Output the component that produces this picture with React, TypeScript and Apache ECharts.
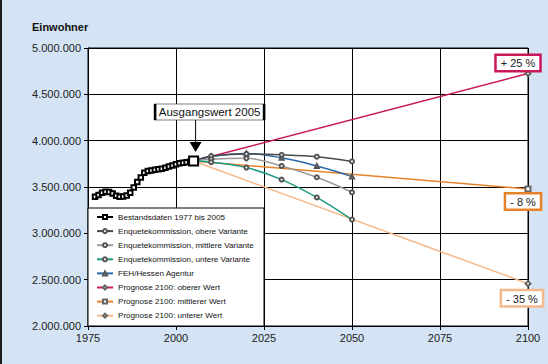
import React, { useEffect, useRef } from 'react';
import * as echarts from 'echarts';

const histYears = [1977, 1978, 1979, 1980, 1981, 1982, 1983, 1984, 1985, 1986, 1987, 1988, 1989, 1990, 1991, 1992, 1993, 1994, 1995, 1996, 1997, 1998, 1999, 2000, 2001, 2002, 2003, 2004, 2005];
const histValues = [3395000, 3413000, 3438000, 3449000, 3446000, 3430000, 3405000, 3395000, 3398000, 3408000, 3438000, 3495000, 3555000, 3602000, 3655000, 3672000, 3677000, 3686000, 3692000, 3698000, 3708000, 3720000, 3733000, 3745000, 3755000, 3762000, 3767000, 3772000, 3780000];

const enqYears = [2005, 2010, 2020, 2030, 2040, 2050];
const enqObere = [3780000, 3834000, 3857000, 3848000, 3827000, 3776000];
const enqMittlere = [3780000, 3800000, 3809000, 3727000, 3605000, 3443000];
const enqUntere = [3780000, 3768000, 3710000, 3580000, 3387000, 3148000];
const fehValues = [3780000, 3830000, 3862000, 3815000, 3727000, 3612000];

const progYears = [2005, 2100];
const progOben = [3780000, 4725000];
const progMitte = [3780000, 3478000];
const progUnten = [3780000, 2457000];
const progLabels = ['+ 25 %', '- 8 %', '- 35 %'];

const seriesNames = [
  'Bestandsdaten 1977 bis 2005',
  'Enquetekommission, obere Variante',
  'Enquetekommission, mittlere Variante',
  'Enquetekommission, untere Variante',
  'FEH/Hessen Agentur',
  'Prognose 2100: oberer Wert',
  'Prognose 2100: mittlerer Wert',
  'Prognose 2100: unterer Wert',
];

const FONT = '"Liberation Sans", Arial, sans-serif';

const pair = (xs: number[], ys: number[]) => xs.map((x, i) => [x, ys[i]]);

const fmt = (v: number) => String(v).replace(/\B(?=(\d{3})+(?!\d))/g, '.');

export default function App() {
  const ref = useRef<HTMLDivElement>(null);
  useEffect(() => {
    if (!ref.current) return;
    const chart = echarts.init(ref.current, null, { renderer: 'svg' });

    const progSeries = (name: string, ys: number[], color: string, symbol: string, label: string, pos: string, offset: number[]) => ({
      name,
      type: 'line',
      z: 2,
      data: progYears.map((x, i) =>
        i === progYears.length - 1
          ? {
              value: [x, ys[i]],
              label: {
                show: true,
                formatter: label,
                position: pos,
                offset,
                backgroundColor: '#fff',
                borderColor: color,
                borderWidth: 2.5,
                padding: [2, 4, 1, 4],
                color: '#222',
                fontSize: 11,
                fontFamily: FONT,
              },
            }
          : [x, ys[i]]
      ),
      symbol,
      symbolSize: 5,
      showSymbol: true,
      lineStyle: { color, width: 1.5 },
      itemStyle: { color: '#666' },
    });

    const enqSeries = (name: string, ys: number[], color: string, symbol = 'emptyCircle') => ({
      name,
      type: 'line',
      z: 3,
      smooth: 0.35,
      data: pair(enqYears, ys),
      symbol,
      symbolSize: 4,
      lineStyle: { color, width: 1.5 },
      itemStyle: { color: '#555' },
    });

    chart.setOption({
      animation: false,
      backgroundColor: '#d4e4f4',
      title: {
        text: 'Einwohner',
        left: 27,
        top: 16,
        textStyle: { fontSize: 11, fontWeight: 'bold', color: '#111', fontFamily: FONT },
      },
      grid: {
        left: 88,
        top: 48,
        width: 440,
        height: 278,
        show: true,
        backgroundColor: '#fff',
        borderColor: '#000',
        borderWidth: 1,
      },
      xAxis: {
        type: 'value',
        min: 1975,
        max: 2100,
        interval: 25,
        axisLine: { lineStyle: { color: '#000' } },
        axisTick: { show: true, length: 4, lineStyle: { color: '#000' } },
        splitLine: { show: true, lineStyle: { color: '#000', width: 1 } },
        axisLabel: { color: '#222', fontSize: 11, fontFamily: FONT, margin: 6, formatter: (v: number) => String(v) },
      },
      yAxis: {
        type: 'value',
        min: 2000000,
        max: 5000000,
        interval: 500000,
        axisLine: { show: true, lineStyle: { color: '#000' } },
        axisTick: { show: true, length: 4, lineStyle: { color: '#000' } },
        splitLine: { show: true, lineStyle: { color: '#000', width: 1 } },
        axisLabel: { color: '#222', fontSize: 11, fontFamily: FONT, margin: 7, formatter: fmt },
      },
      legend: {
        orient: 'vertical',
        left: 96,
        top: 212,
        padding: 0,
        itemWidth: 16,
        itemHeight: 5,
        itemGap: 4.1,
        z: 6,
        data: seriesNames,
        textStyle: { fontSize: 8.1, lineHeight: 10, color: '#111', fontFamily: FONT },
      },
      graphic: [
        {
          type: 'rect',
          z: 5,
          shape: { x: 88, y: 208, width: 176, height: 118 },
          style: { fill: '#fff', stroke: '#000', lineWidth: 1 },
        },
        {
          type: 'rect',
          z: 5,
          shape: { x: 0, y: 0, width: 2, height: 364 },
          style: { fill: '#1a1a1a' },
        },
      ],
      series: [
        progSeries(seriesNames[5], progOben, '#c8185a', 'emptyDiamond', progLabels[0], 'top', [-10, 5]),
        progSeries(seriesNames[6], progMitte, '#e8822a', 'emptyRect', progLabels[1], 'bottom', [-5, -3]),
        progSeries(seriesNames[7], progUnten, '#f4b88a', 'emptyDiamond', progLabels[2], 'bottom', [-6, -1]),
        enqSeries(seriesNames[4], fehValues, '#2a6aa8', 'emptyTriangle'),
        enqSeries(seriesNames[1], enqObere, '#4a4a4a'),
        enqSeries(seriesNames[2], enqMittlere, '#9a9a9a'),
        enqSeries(seriesNames[3], enqUntere, '#1a9a80'),
        {
          name: seriesNames[0],
          type: 'line',
          z: 4,
          data: histYears.map((x, i) =>
            x === 2005 ? { value: [x, histValues[i]], symbolSize: 9 } : [x, histValues[i]]
          ),
          symbol: 'emptyRect',
          symbolSize: 4.5,
          lineStyle: { color: '#000', width: 1 },
          itemStyle: { color: '#000', borderWidth: 0.8 },
          markPoint: {
            silent: true,
            data: [
              {
                coord: [2005, 3780000],
                symbol: 'triangle',
                symbolRotate: 180,
                symbolSize: [12, 10],
                symbolOffset: [2, -14],
                itemStyle: { color: '#000' },
                label: { show: false },
              },
              {
                coord: [2005, 3780000],
                symbol: 'rect',
                symbolSize: [1, 22],
                symbolOffset: [2, -30],
                itemStyle: { color: '#000' },
                label: { show: false },
              },
              {
                coord: [2005, 3780000],
                symbol: 'rect',
                symbolSize: [109, 16],
                symbolOffset: [16, -49],
                itemStyle: { color: '#fff', borderColor: '#000', borderWidth: 1 },
                label: {
                  show: true,
                  position: 'inside',
                  formatter: 'Ausgangswert 2005',
                  color: '#111',
                  fontSize: 11.5,
                  fontFamily: FONT,
                },
              },
            ],
          },
        },
      ],
    });
    return () => chart.dispose();
  }, []);
  return <div ref={ref} style={{ position: 'fixed', left: 0, top: 0, width: 548, height: 364 }} />;
}
